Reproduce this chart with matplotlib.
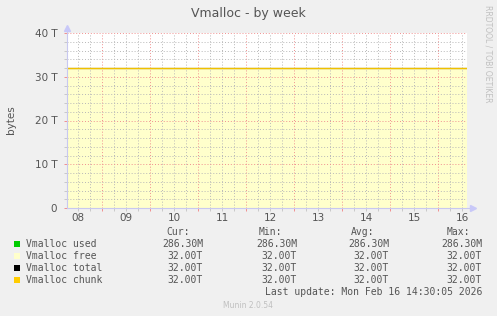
import matplotlib
matplotlib.use("Agg")
import matplotlib.pyplot as plt
import numpy as np

# hours since Feb 08 06:30, window ends Feb 16 14:30
sample_hours = [0, 17.5, 41.5, 65.5, 89.5, 113.5, 137.5, 161.5, 185.5, 200]
used_bytes = [286.30e6, 286.30e6, 286.30e6, 286.30e6, 286.30e6,
              286.30e6, 286.30e6, 286.30e6, 286.30e6, 286.30e6]
free_bytes = [32.0e12, 32.0e12, 32.0e12, 32.0e12, 32.0e12,
              32.0e12, 32.0e12, 32.0e12, 32.0e12, 32.0e12]
total_bytes = [32.0e12, 32.0e12, 32.0e12, 32.0e12, 32.0e12,
               32.0e12, 32.0e12, 32.0e12, 32.0e12, 32.0e12]
chunk_bytes = [32.0e12, 32.0e12, 32.0e12, 32.0e12, 32.0e12,
               32.0e12, 32.0e12, 32.0e12, 32.0e12, 32.0e12]

day_labels = ['08', '09', '10', '11', '12', '13', '14', '15', '16']
y_ticks_t = [0, 10, 20, 30, 40]
y_tick_labels = ['0', '10 T', '20 T', '30 T', '40 T']

legend_names = ['Vmalloc used', 'Vmalloc free', 'Vmalloc total', 'Vmalloc chunk']
legend_colors = ['#00CC00', '#FFFFCC', '#000000', '#FFCC00']
cur_vals = ['286.30M', '32.00T', '32.00T', '32.00T']
min_vals = ['286.30M', '32.00T', '32.00T', '32.00T']
avg_vals = ['286.30M', '32.00T', '32.00T', '32.00T']
max_vals = ['286.30M', '32.00T', '32.00T', '32.00T']

W, H = 497, 316
BG = '#F0F0F0'
TXT = '#555555'

fig = plt.figure(figsize=(W / 100, H / 100), dpi=100, facecolor=BG)

def px(x, y):
    # pixel coords (from top-left) -> figure fraction
    return x / W, 1 - y / H

ax = fig.add_axes([67 / W, 1 - 208 / H, 400 / W, 175 / H])
ax.set_facecolor('white')

t = np.array(sample_hours)
used_t = np.array(used_bytes) / 1e12
free_t = np.array(free_bytes) / 1e12
ax.fill_between(t, 0, used_t, color=legend_colors[0], lw=0, zorder=2)
ax.fill_between(t, used_t, used_t + free_t, color=legend_colors[1], lw=0, zorder=2)
ax.plot(t, np.array(total_bytes) / 1e12, color=legend_colors[2], lw=0.8, zorder=3)
ax.plot(t, np.array(chunk_bytes) / 1e12, color='#F0C000', lw=1.0, zorder=4)

# grid: midnights red, every 6h gray
midnights = [17.5 + 24 * i for i in range(8)]
six_hours = [5.5 + 6 * i for i in range(33)]
noons = [5.5 + 24 * i for i in range(9)]
ax.set_xticks(midnights)
ax.set_xticks(six_hours, minor=True)
ax.set_xticklabels([])
ax.set_yticks(y_ticks_t)
ax.set_yticklabels(y_tick_labels)
ax.set_yticks(np.arange(0, 41, 2), minor=True)
ax.set_xlim(0, 200)
ax.set_ylim(0, 40)

ax.grid(which='major', color='#F09090', lw=0.7, ls=(0, (1, 2)), zorder=5)
ax.grid(which='minor', color='#B8B8B8', lw=0.7, ls=(0, (1, 2)), zorder=5)
ax.set_axisbelow(False)

ax.tick_params(which='major', length=2, width=0.7, color='#F09090',
               labelsize=7.5, labelcolor=TXT, pad=5)
ax.tick_params(which='minor', length=2, width=0.7, color='#C8C8C8')

for i, lab in enumerate(day_labels):
    ax.text(noons[i], -0.057, lab, transform=ax.get_xaxis_transform(),
            ha='center', va='center', fontsize=7.5, color=TXT)

for s in ax.spines.values():
    s.set_visible(False)

# axis lines with arrows
axis_col = '#C8C8F0'
ax.plot([0, 0], [0, 1.03], transform=ax.transAxes, color=axis_col, lw=0.8, clip_on=False, zorder=6)
ax.plot([0, 1.015], [0, 0], transform=ax.transAxes, color=axis_col, lw=0.8, clip_on=False, zorder=6)
ax.plot([0], [1.03], transform=ax.transAxes, marker='^', ms=4, color='#C8C8F8', clip_on=False, zorder=6)
ax.plot([1.015], [0], transform=ax.transAxes, marker='>', ms=4, color='#C8C8F8', clip_on=False, zorder=6)

# title, labels
fig.text(*px(248, 13), 'Vmalloc - by week', ha='center', va='center', fontsize=9, color=TXT)
fig.text(*px(11, 120), 'bytes', ha='center', va='center', rotation=90, fontsize=7.5, color=TXT)
fig.text(*px(488, 5), 'RRDTOOL / TOBI OETIKER', ha='center', va='top', rotation=270,
         fontsize=5.5, color='#C0C0C0')

# legend table
mono = 'DejaVu Sans Mono'
fs = 7
header_y = 232
fig.text(*px(190, header_y), 'Cur:', ha='right', va='center', family=mono, fontsize=fs, color=TXT)
fig.text(*px(282, header_y), 'Min:', ha='right', va='center', family=mono, fontsize=fs, color=TXT)
fig.text(*px(374, header_y), 'Avg:', ha='right', va='center', family=mono, fontsize=fs, color=TXT)
fig.text(*px(470, header_y), 'Max:', ha='right', va='center', family=mono, fontsize=fs, color=TXT)

row_y = [244, 256, 268, 280]
for i, name in enumerate(legend_names):
    y = row_y[i]
    fig.patches.append(plt.Rectangle(px(14, y + 3), 6 / W, 6 / H, transform=fig.transFigure,
                                     facecolor=legend_colors[i], edgecolor='none'))
    fig.text(*px(26, y), name, ha='left', va='center', family=mono, fontsize=fs, color=TXT)
    fig.text(*px(203, y), cur_vals[i], ha='right', va='center', family=mono, fontsize=fs, color=TXT)
    fig.text(*px(297, y), min_vals[i], ha='right', va='center', family=mono, fontsize=fs, color=TXT)
    fig.text(*px(389, y), avg_vals[i], ha='right', va='center', family=mono, fontsize=fs, color=TXT)
    fig.text(*px(482, y), max_vals[i], ha='right', va='center', family=mono, fontsize=fs, color=TXT)

fig.text(*px(482, 292), 'Last update: Mon Feb 16 14:30:05 2026', ha='right', va='center',
         family=mono, fontsize=fs, color=TXT)
fig.text(*px(248, 306), 'Munin 2.0.54', ha='center', va='center', fontsize=5.5, color='#C0C0C0')

fig.savefig('out.png', dpi=100, facecolor=BG)
